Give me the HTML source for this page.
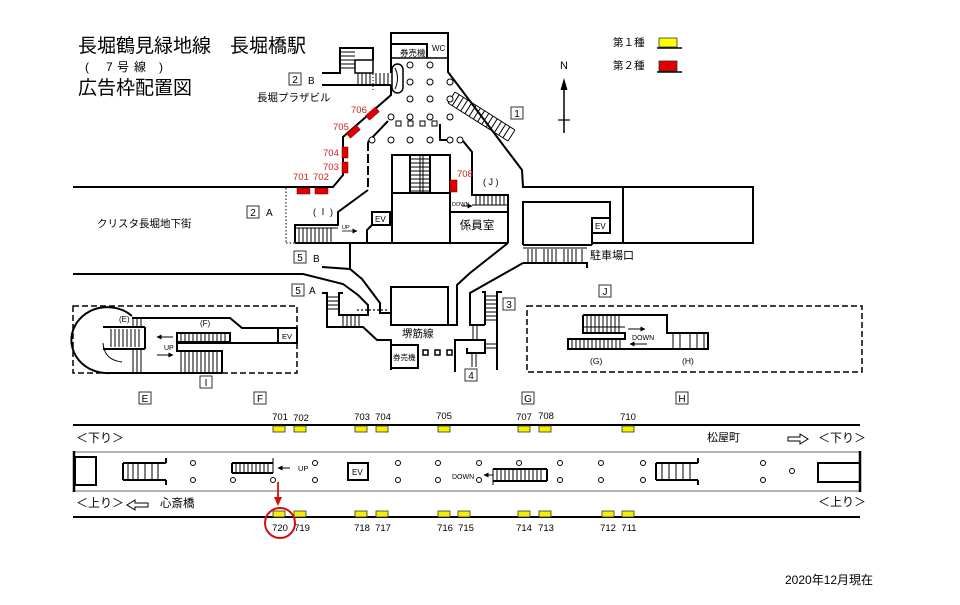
<!DOCTYPE html>
<html><head><meta charset="utf-8"><style>
html,body{margin:0;padding:0;background:#fff;}
svg{display:block;}
text{font-family:"Liberation Sans","Noto Sans CJK JP",sans-serif;fill:#000;}
.r{fill:#d02020;}
</style></head><body>
<svg width="960" height="605" viewBox="0 0 960 605" xmlns="http://www.w3.org/2000/svg">
<defs>
<marker id="a" markerWidth="5" markerHeight="5" refX="4.5" refY="2.5" orient="auto" markerUnits="userSpaceOnUse"><path d="M0,0 L5,2.5 L0,5 z" fill="#000"/></marker>
</defs>
<rect width="960" height="605" fill="#fff"/>

<!-- Titles -->
<text x="78" y="52" font-size="19">長堀鶴見緑地線　長堀橋駅</text>
<text x="85" y="71" font-size="12">(</text>
<text x="106" y="71" font-size="12">7</text>
<text x="117" y="71" font-size="12">号</text>
<text x="134" y="71" font-size="12">線</text>
<text x="159" y="71" font-size="12">)</text>
<text x="78" y="94" font-size="19">広告枠配置図</text>

<!-- Legend -->
<text x="613" y="46" font-size="10.5">第１種</text>
<rect x="659" y="38" width="18" height="9" fill="#ffff00" stroke="#333" stroke-width="0.8"/>
<line x1="657" y1="48" x2="682" y2="48" stroke="#000" stroke-width="1.5"/>
<text x="613" y="69" font-size="10.5">第２種</text>
<rect x="659" y="61" width="18" height="10" fill="#e00000" stroke="#333" stroke-width="0.8"/>
<line x1="657" y1="72" x2="682" y2="72" stroke="#000" stroke-width="1.5"/>

<!-- North -->
<text x="564" y="69" font-size="11" text-anchor="middle">N</text>
<line x1="564" y1="86" x2="564" y2="133" stroke="#000" stroke-width="1.5"/>
<polygon points="564,78 560.5,90 567.5,90" fill="#000"/>
<line x1="558" y1="120" x2="570" y2="120" stroke="#000" stroke-width="1.2"/>

<!-- ========== Upper concourse ========== -->
<g fill="none" stroke="#000" stroke-width="2">
  <polyline points="391,73 391,33 448,33 448,72 522,170 523,187 753,187 753,243 592,243"/>
  <polyline points="391,44 427,44 427,58"/>
  <polyline points="391,85 391,95 343,137 343,175 333,187 73,187"/>
  <polyline points="322,73 340,73 340,48 373,48 373,60"/>
  <line x1="322" y1="85" x2="391" y2="85"/>
  <rect x="355" y="60" width="18" height="13" stroke-width="1.5"/>
  <rect x="392" y="64" width="11" height="29" rx="5.5" stroke-width="1.5"/>
  <path d="M395,68 Q400,78 395,89" stroke-width="1"/>
  <line x1="388" y1="121" x2="368" y2="142"/>
  <line x1="368" y1="142" x2="368" y2="190" stroke-dasharray="9,3"/>
  <polyline points="368,190 338,212 338,225 295,225 295,243"/>
  <line x1="295" y1="243" x2="508" y2="243"/>
  <rect x="372" y="212" width="18" height="13"/>
  <polyline points="372,225 367,230 367,243"/>
  <rect x="392" y="155" width="58" height="88"/>
  <line x1="392" y1="193" x2="450" y2="193"/>
  <line x1="410" y1="155" x2="410" y2="193"/>
  <line x1="430" y1="155" x2="430" y2="193"/>
  <polyline points="440,124 440,140 447,140"/>
  <polyline points="463,141 472,152 472,195 508,195 508,243"/>
  <line x1="450" y1="212" x2="508" y2="212"/>
  <polyline points="508,243 470,273 457,285 457,325 448,325"/>
  <rect x="391" y="287" width="57" height="38"/>
  <polyline points="523,263 470,293 470,325 485,325"/>
  <polyline points="523,245 523,202 610,202 610,233"/>
  <rect x="592" y="218" width="18" height="15"/>
  <line x1="592" y1="233" x2="592" y2="245"/>
  <line x1="523" y1="245" x2="592" y2="245"/>
  <line x1="623" y1="187" x2="623" y2="243"/>
  <polyline points="523,263 587,263 587,268"/>
  <polyline points="73,274 303,274 343,284 358,295 368,305 368,315 339,315 339,293 343,293"/>
  <polyline points="322,293 327,293 327,327 363,327 377,340 391,340 391,370"/>
  <polyline points="322,267 350,269 362,279 380,303 380,313 391,313"/>
  <line x1="350" y1="243" x2="350" y2="269"/>
  <rect x="391" y="345" width="27" height="23"/>
  <polyline points="482,292 485,292 485,325"/>
  <polyline points="502,292 497,292 497,370"/>
  <polyline points="455,372 455,340 485,340 485,353 467,353 467,348"/>
</g>

<g fill="none" stroke="#000" stroke-width="1">
  <path d="M340,52H355M340,56H355M340,60H355M340,64H355M340,68H355"/>
  <path d="M358,73V85M362,73V85M366,73V85M370,73V85M376,73V85M380,73V85M384,73V85M388,73V85"/>
  <line x1="373" y1="62" x2="373" y2="92" stroke-dasharray="1,2"/>
  <line x1="391" y1="58" x2="448" y2="58" stroke-width="1.5"/>
  <path d="M410,159H430M410,163H430M410,167H430M410,171H430M410,175H430M410,179H430M410,183H430M410,187H430M410,191H430M420,155V193M423,155V193"/>
  <path d="M455,92L515,130M448,103L508,141M455,92L448,103M459.2,94.7L452.2,105.7M463.5,97.4L456.5,108.4M467.7,100L460.7,111M471.9,102.7L464.9,113.7M476.1,105.4L469.1,116.4M480.4,108.1L473.4,119.1M484.6,110.7L477.6,121.7M488.8,113.4L481.8,124.4M493,116.1L486,127.1M497.3,118.8L490.3,129.8M501.5,121.4L494.5,132.4M505.7,124.1L498.7,135.1M509.9,126.8L502.9,137.8M515,130L508,141"/>
  <path d="M295,228H338M299,228V243M303,228V243M307,228V243M311,228V243M315,228V243M319,228V243M323,228V243M327,228V243M331,228V243"/>
  <line x1="286" y1="188" x2="286" y2="243" stroke-dasharray="1.5,2"/>
  <line x1="286" y1="243" x2="295" y2="243" stroke-dasharray="1.5,2"/>
  <path d="M472,205H508M476,195V205M480,195V205M484,195V205M488,195V205M492,195V205M496,195V205M500,195V205M504,195V205"/>
  <line x1="462" y1="206" x2="472" y2="206" marker-end="url(#a)"/>
  <path d="M523,248H587M528,249V262M532,249V262M536,249V262M544,249V262M548,249V262M552,249V262M556,249V262M564,249V262M568,249V262M572,249V262M576,249V262M582,249V262"/>
  <path d="M327,297H339M327,301H339M327,305H339M327,309H339M343,315V327M347,315V327M351,315V327M355,315V327M359,315V327"/>
  <line x1="357" y1="310" x2="389" y2="310" stroke-dasharray="2,2" stroke-width="1.2"/>
  <path d="M485,296H497M485,300H497M485,304H497M485,308H497M485,312H497M485,316H497M485,320H497M473,325V340M477,325V340M485,344H497M485,348H497M472,353V367M476,353V367"/>
</g>
<g fill="none" stroke="#000" stroke-width="1.5">
  <rect x="423" y="350" width="5" height="5"/>
  <rect x="435" y="350" width="5" height="5"/>
  <rect x="447" y="350" width="5" height="5"/>
</g>

<g fill="#fff" stroke="#000" stroke-width="1">
  <circle cx="410" cy="65" r="3"/><circle cx="430" cy="65" r="3"/>
  <circle cx="410" cy="82" r="3"/><circle cx="430" cy="82" r="3"/><circle cx="450" cy="82" r="3"/>
  <circle cx="410" cy="99" r="3"/><circle cx="430" cy="99" r="3"/><circle cx="450" cy="99" r="3"/>
  <circle cx="391" cy="117" r="3"/><circle cx="410" cy="117" r="3"/><circle cx="430" cy="117" r="3"/><circle cx="450" cy="117" r="3"/>
  <rect x="396" y="121" width="5" height="5"/><rect x="408" y="121" width="5" height="5"/><rect x="420" y="121" width="5" height="5"/><rect x="432" y="121" width="5" height="5"/>
  <circle cx="372" cy="140" r="3"/><circle cx="391" cy="140" r="3"/><circle cx="410" cy="140" r="3"/><circle cx="430" cy="140" r="3"/><circle cx="450" cy="140" r="3"/><circle cx="460" cy="140" r="3"/>
</g>

<g fill="#e00000" stroke="#600" stroke-width="0.5">
  <rect x="366" y="111" width="13" height="6" transform="rotate(-41 372 114)"/>
  <rect x="347" y="129" width="13" height="6" transform="rotate(-41 353 132)"/>
  <rect x="342" y="147" width="6" height="11"/>
  <rect x="342" y="162" width="6" height="11"/>
  <rect x="297" y="188" width="13" height="6"/>
  <rect x="315" y="188" width="13" height="6"/>
  <rect x="450" y="180" width="7" height="12"/>
</g>
<g font-size="9.5">
  <text class="r" x="351" y="113">706</text>
  <text class="r" x="333" y="130">705</text>
  <text class="r" x="323" y="156">704</text>
  <text class="r" x="323" y="170">703</text>
  <text class="r" x="293" y="180">701</text>
  <text class="r" x="313" y="180">702</text>
  <text class="r" x="457" y="177">708</text>
</g>

<text x="400" y="56" font-size="8.5">券売機</text>
<text x="432" y="51" font-size="8">WC</text>
<text x="257" y="101" font-size="10.5">長堀プラザビル</text>
<text x="97" y="227" font-size="10.5">クリスタ長堀地下街</text>
<text x="313" y="215" font-size="9">( Ⅰ )</text>
<text x="483" y="185" font-size="9">( J )</text>
<text x="375" y="222" font-size="8">EV</text>
<text x="342" y="229" font-size="5.5">UP</text>
<line x1="342" y1="231" x2="357" y2="231" stroke="#000" stroke-width="0.8" marker-end="url(#a)"/>
<text x="452" y="206" font-size="5.5">DOWN</text>
<text x="477" y="229" font-size="11.5" text-anchor="middle">係員室</text>
<text x="595" y="229" font-size="8">EV</text>
<text x="590" y="259" font-size="11">駐車場口</text>
<text x="402" y="337" font-size="10.5">堺筋線</text>
<text x="393" y="360" font-size="7.5">券売機</text>

<g fill="none" stroke="#333" stroke-width="1">
  <rect x="289" y="73" width="12" height="12"/>
  <rect x="247" y="206" width="12" height="12"/>
  <rect x="294" y="251" width="12" height="12"/>
  <rect x="292" y="284" width="12" height="12"/>
  <rect x="511" y="107" width="12" height="12"/>
  <rect x="503" y="298" width="12" height="12"/>
  <rect x="465" y="369" width="12" height="12"/>
  <rect x="599" y="285" width="12" height="12"/>
  <rect x="200" y="376" width="12" height="12"/>
  <rect x="139" y="392" width="12" height="12"/>
  <rect x="254" y="392" width="12" height="12"/>
  <rect x="522" y="392" width="12" height="12"/>
  <rect x="676" y="392" width="12" height="12"/>
</g>
<g font-size="10" text-anchor="middle">
  <text x="295" y="83">2</text>
  <text x="253" y="216">2</text>
  <text x="300" y="261">5</text>
  <text x="298" y="294">5</text>
  <text x="517" y="117">1</text>
  <text x="509" y="308">3</text>
  <text x="471" y="379">4</text>
  <text x="605" y="295">J</text>
  <text x="206" y="386">I</text>
  <text x="145" y="402">E</text>
  <text x="260" y="402">F</text>
  <text x="528" y="402">G</text>
  <text x="682" y="402">H</text>
</g>
<g font-size="10">
  <text x="308" y="84">B</text>
  <text x="266" y="216">A</text>
  <text x="313" y="262">B</text>
  <text x="309" y="294">A</text>
</g>

<rect x="73" y="306" width="224" height="67" fill="none" stroke="#000" stroke-width="1.5" stroke-dasharray="6,3"/>
<g fill="none" stroke="#000" stroke-width="2">
  <path d="M132,316 A36,33 0 1,0 110,373 L222,373"/>
  <polyline points="132,318 230,318 242,328 278,328"/>
  <rect x="278" y="328" width="19" height="15"/>
  <line x1="177" y1="343" x2="278" y2="343"/>
  <polyline points="177,351 177,333 230,333 230,342 177,342"/>
  <polyline points="177,343 177,351 222,351 222,373"/>
  <line x1="103" y1="327" x2="145" y2="327"/>
  <line x1="103" y1="349" x2="145" y2="349"/>
  <line x1="145" y1="327" x2="145" y2="349"/>
</g>
<g fill="none" stroke="#000" stroke-width="1">
  <path d="M103,343 Q104,360 122,362"/>
  <path d="M181,333V342M185,333V342M189,333V342M193,333V342M197,333V342M201,333V342M205,333V342M209,333V342M213,333V342M217,333V342M221,333V342M225,333V342"/>
  <path d="M181,351V373M185,351V373M189,351V373M193,351V373M197,351V373M201,351V373M205,351V373M209,351V373M213,351V373M217,351V373"/>
  <path d="M111,329V347M115,329V347M119,329V347M123,329V347M127,329V347M131,329V347M135,329V347M139,329V347"/>
  <path d="M133,318V327M137,318V327M141,318V327M133,349V373M137,349V373M141,349V373"/>
  <line x1="173" y1="337" x2="157" y2="337" marker-end="url(#a)"/>
  <line x1="157" y1="355" x2="173" y2="355" marker-end="url(#a)"/>
</g>
<text x="164" y="350" font-size="7">UP</text>
<text x="119" y="322" font-size="8">(E)</text>
<text x="200" y="326" font-size="8">(F)</text>
<text x="282" y="339" font-size="7.5">EV</text>

<rect x="527" y="306" width="335" height="66" fill="none" stroke="#000" stroke-width="1.5" stroke-dasharray="6,3"/>
<g fill="none" stroke="#000" stroke-width="2">
  <polyline points="583,315 667,315 667,333 708,333 708,349 568,349 568,339 625,339 625,333 583,333 583,315"/>
</g>
<g fill="none" stroke="#000" stroke-width="1">
  <path d="M583,327H625M587,315V333M591,315V333M595,315V333M599,315V333M603,315V333M607,315V333M611,315V333M615,315V333M619,315V333"/>
  <path d="M572,339V349M576,339V349M580,339V349M584,339V349M588,339V349M592,339V349M596,339V349M600,339V349M604,339V349M608,339V349M612,339V349M616,339V349M620,339V349"/>
  <path d="M673,333V349M680,333V349M690,333V349M697,333V349M704,333V349"/>
  <line x1="628" y1="329" x2="645" y2="329" marker-end="url(#a)"/>
  <line x1="647" y1="344" x2="630" y2="344" marker-end="url(#a)"/>
</g>
<text x="632" y="340" font-size="7">DOWN</text>
<text x="590" y="364" font-size="8.5">(G)</text>
<text x="682" y="364" font-size="8.5">(H)</text>

<line x1="73" y1="425" x2="860" y2="425" stroke="#000" stroke-width="2"/>
<line x1="73" y1="517" x2="860" y2="517" stroke="#000" stroke-width="2"/>
<rect x="74" y="452" width="786" height="39" fill="none" stroke="#666" stroke-width="1"/>
<g fill="none" stroke="#000" stroke-width="2.5">
  <line x1="74" y1="451" x2="74" y2="492"/>
  <line x1="860" y1="451" x2="860" y2="492"/>
</g>
<g fill="none" stroke="#000" stroke-width="2">
  <rect x="75" y="457" width="21" height="28"/>
  <rect x="818" y="463" width="42" height="19"/>
  <rect x="348" y="463" width="20" height="17"/>
  <path d="M123,463H166M123,480H166M123,463V480M166,458V463M166,480V485"/>
  <path d="M232,463H273M232,473H273M232,463V473"/>
  <path d="M493,469H547M493,481H547M547,469V481"/>
  <path d="M656,463H698M656,480H698M656,463V480M698,458V463M698,480V485"/>
</g>
<g fill="none" stroke="#000" stroke-width="1">
  <path d="M128,463V480M133,463V480M138,463V480M145,463V480M152,463V480M158,463V480"/>
  <path d="M236,463V473M240,463V473M244,463V473M248,463V473M252,463V473M256,463V473M260,463V473M264,463V473M268,463V473M273,458V473"/>
  <path d="M493,469V485M497,469V481M501,469V481M505,469V481M509,469V481M513,469V481M517,469V481M521,469V481M525,469V481M529,469V481M533,469V481M537,469V481M541,469V481"/>
  <path d="M662,463V480M669,463V480M676,463V480M683,463V480M690,463V480"/>
  <line x1="290" y1="468" x2="278" y2="468" marker-end="url(#a)"/>
  <line x1="493" y1="475" x2="484" y2="475" marker-end="url(#a)"/>
</g>
<text x="298" y="471" font-size="7.5">UP</text>
<text x="352" y="475" font-size="8">EV</text>
<text x="452" y="479" font-size="7">DOWN</text>
<g fill="#fff" stroke="#000" stroke-width="1">
  <circle cx="193" cy="463" r="2.5"/><circle cx="193" cy="480" r="2.5"/>
  <circle cx="233" cy="480" r="2.5"/><circle cx="273" cy="480" r="2.5"/>
  <circle cx="315" cy="463" r="2.5"/><circle cx="315" cy="480" r="2.5"/>
  <circle cx="398" cy="463" r="2.5"/><circle cx="398" cy="480" r="2.5"/>
  <circle cx="438" cy="463" r="2.5"/><circle cx="438" cy="480" r="2.5"/>
  <circle cx="479" cy="463" r="2.5"/><circle cx="479" cy="480" r="2.5"/>
  <circle cx="519" cy="463" r="2.5"/>
  <circle cx="560" cy="463" r="2.5"/><circle cx="560" cy="480" r="2.5"/>
  <circle cx="601" cy="463" r="2.5"/><circle cx="601" cy="480" r="2.5"/>
  <circle cx="643" cy="463" r="2.5"/><circle cx="643" cy="480" r="2.5"/>
  <circle cx="763" cy="463" r="2.5"/><circle cx="763" cy="480" r="2.5"/>
  <circle cx="792" cy="471" r="2.5"/>
</g>

<g fill="#f5f000" stroke="#333" stroke-width="0.8">
  <rect x="273" y="426" width="12" height="6"/><rect x="294" y="426" width="12" height="6"/>
  <rect x="355" y="426" width="12" height="6"/><rect x="376" y="426" width="12" height="6"/>
  <rect x="438" y="426" width="12" height="6"/>
  <rect x="518" y="426" width="12" height="6"/><rect x="539" y="426" width="12" height="6"/>
  <rect x="622" y="426" width="12" height="6"/>
  <rect x="273" y="511" width="12" height="6"/><rect x="294" y="511" width="12" height="6"/>
  <rect x="355" y="511" width="12" height="6"/><rect x="376" y="511" width="12" height="6"/>
  <rect x="438" y="511" width="12" height="6"/><rect x="458" y="511" width="12" height="6"/>
  <rect x="518" y="511" width="12" height="6"/><rect x="539" y="511" width="12" height="6"/>
  <rect x="602" y="511" width="12" height="6"/><rect x="622" y="511" width="12" height="6"/>
</g>
<g font-size="9.5" text-anchor="middle">
  <text x="280" y="420">701</text><text x="301" y="421">702</text>
  <text x="362" y="420">703</text><text x="383" y="420">704</text>
  <text x="444" y="419">705</text>
  <text x="524" y="420">707</text><text x="546" y="419">708</text>
  <text x="628" y="420">710</text>
  <text x="280" y="531">720</text><text x="302" y="531">719</text>
  <text x="362" y="531">718</text><text x="383" y="531">717</text>
  <text x="445" y="531">716</text><text x="466" y="531">715</text>
  <text x="524" y="531">714</text><text x="546" y="531">713</text>
  <text x="608" y="531">712</text><text x="629" y="531">711</text>
</g>

<line x1="278" y1="482" x2="278" y2="499" stroke="#d01010" stroke-width="1.8"/>
<polygon points="274,497 282,497 278,506" fill="#d01010"/>
<circle cx="280" cy="523" r="15" fill="none" stroke="#d01010" stroke-width="2"/>

<text x="76" y="442" font-size="12">＜下り＞</text>
<text x="818" y="442" font-size="12">＜下り＞</text>
<text x="707" y="441" font-size="11">松屋町</text>
<path d="M788,437 H800 V434 L808,439 L800,444 V441 H788 Z" fill="#fff" stroke="#000" stroke-width="1"/>
<text x="76" y="507" font-size="12">＜上り＞</text>
<text x="818" y="506" font-size="12">＜上り＞</text>
<path d="M148,503 H135 V500 L127,505 L135,510 V507 H148 Z" fill="#fff" stroke="#000" stroke-width="1"/>
<text x="160" y="507" font-size="11.5">心斎橋</text>

<text x="785" y="584" font-size="12">2020年12月現在</text>
</svg>
</body></html>
